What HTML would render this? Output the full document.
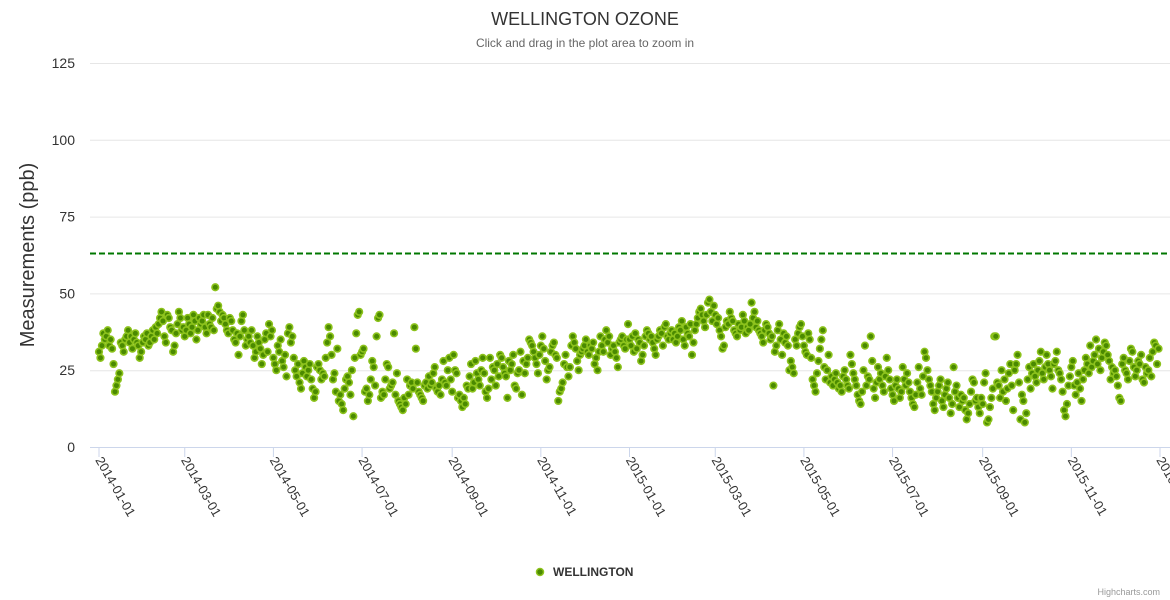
<!DOCTYPE html>
<html><head><meta charset="utf-8"><style>
body{margin:0;background:#fff;}
svg{font-family:"Liberation Sans",sans-serif;display:block}
</style></head><body>
<svg id="chart" width="1170" height="600">
<text x="585" y="25" text-anchor="middle" font-size="18" fill="#333">WELLINGTON OZONE</text>
<text x="585" y="47" text-anchor="middle" font-size="12" fill="#666">Click and drag in the plot area to zoom in</text>
<text transform="translate(34,255) rotate(-90)" text-anchor="middle" font-size="20" fill="#333">Measurements (ppb)</text>
<g id="grid"></g><g id="xaxis"></g><g id="pts"></g>
<g>
<circle cx="540" cy="572" r="3.5" fill="#4a8a00" stroke="#8cc21c" stroke-width="1.5"/>
<text x="553" y="576" font-size="12" font-weight="bold" fill="#333">WELLINGTON</text></g>
<text x="1160" y="595" text-anchor="end" font-size="9" fill="#999">Highcharts.com</text>
</svg>
<script>
const yTicks=[0,25,50,75,100,125];
const xTickLabels=["2014-01-01","2014-03-01","2014-05-01","2014-07-01","2014-09-01","2014-11-01","2015-01-01","2015-03-01","2015-05-01","2015-07-01","2015-09-01","2015-11-01","2016-01-01"];
const threshold=63;
const values=[
31,29,33,37,35,36,38,33,35,32,27,18,20,22,24,34,33,31,35,36,38,34,36,32,35,37,34,33,29,31,34,
36,35,37,33,34,36,38,35,39,37,40,42,44,41,36,34,43,42,39,38,31,33,37,40,44,42,38,39,
36,38,42,40,37,39,43,41,35,38,42,40,41,43,39,37,43,40,39,42,38,52,45,46,44,41,43,42,40,38,37,
42,41,38,35,34,37,30,36,41,43,38,33,35,36,34,38,33,29,31,36,34,32,27,30,35,37,31,40,36,38,
29,27,25,33,31,35,28,26,30,23,37,39,34,36,29,25,23,27,21,19,24,28,26,23,25,27,22,19,16,18,26,
27,25,22,24,23,29,34,39,36,30,22,24,18,32,15,17,14,12,19,22,23,21,17,25,10,29,37,43,44,30,
31,32,18,19,15,17,22,28,26,20,36,42,43,16,18,17,22,27,26,19,20,21,37,17,24,15,14,13,12,16,14,
22,17,20,21,19,39,32,21,18,17,16,15,20,21,19,23,20,21,24,26,19,18,20,17,22,28,21,20,25,29,22,
18,30,25,24,16,17,15,13,16,14,20,19,23,27,19,21,28,24,22,20,25,29,24,18,16,19,29,22,26,25,
20,27,23,30,29,26,24,23,16,28,25,27,30,20,19,24,25,31,17,28,24,27,29,35,34,33,31,29,27,24,30,
33,36,32,28,22,25,26,31,33,34,30,29,15,18,19,21,27,30,26,23,26,33,36,34,32,28,25,30,31,32,
33,35,31,30,33,32,34,27,29,25,31,36,33,31,35,38,34,36,30,32,33,31,29,26,34,35,36,33,32,35,40,
35,33,36,31,37,32,35,34,28,30,33,36,38,37,35,36,34,32,30,35,36,38,37,33,39,40,36,35,37,38,35,
37,34,36,39,38,41,35,33,39,37,36,40,30,34,38,40,42,44,45,43,41,39,43,47,48,44,41,46,
43,40,42,38,36,32,33,39,41,40,44,42,41,38,37,36,40,38,39,43,41,37,39,38,40,47,42,44,39,41,38,
37,36,34,38,40,39,37,35,36,20,31,33,38,40,35,30,37,34,36,33,25,28,26,24,35,33,37,39,40,36,
33,31,30,37,35,29,22,20,18,24,28,32,35,38,26,22,25,30,21,23,20,22,24,21,19,20,18,23,25,22,20,
19,30,27,24,22,20,17,15,14,18,25,33,20,23,22,36,28,19,16,21,26,22,24,20,18,23,29,25,22,19,
17,15,20,22,19,16,18,26,22,20,24,21,18,16,14,13,17,21,26,19,17,23,31,29,25,22,20,18,14,12,16,
18,20,22,15,13,17,19,21,16,11,14,26,18,20,16,13,17,15,16,12,9,11,14,18,22,21,15,16,13,11,16,
14,21,24,8,9,13,16,19,36,36,21,20,16,25,18,22,15,19,24,27,20,12,25,27,30,21,9,17,15,8,
11,22,26,19,24,27,23,21,25,28,31,24,22,26,30,27,25,23,19,27,28,31,25,24,22,18,12,10,14,20,23,
26,28,20,17,21,24,19,15,22,25,29,27,24,33,26,28,30,35,27,32,25,29,31,34,33,30,28,22,26,24,
25,23,20,16,15,27,29,25,24,22,28,32,31,26,23,25,28,27,30,22,21,26,24,25,29,23,31,34,33,27,32
];
const NS="http://www.w3.org/2000/svg";
const t0=Date.UTC(2014,0,1),t1=Date.UTC(2016,0,1),day=864e5;
const X0=99,X1=1160,Y0=447,Y1=63;
const xs=t=>X0+(t-t0)/(t1-t0)*(X1-X0);
const ys=v=>Y0-v/125*(Y0-Y1);
function mk(tag,attrs,parent){const e=document.createElementNS(NS,tag);for(const k in attrs)e.setAttribute(k,attrs[k]);parent.appendChild(e);return e;}
const grid=document.getElementById('grid');
yTicks.forEach(v=>{
 const l=mk('line',{x1:90,x2:1170,y1:ys(v)+0.5,y2:ys(v)+0.5,stroke:v===0?'#ccd6eb':'#e6e6e6','stroke-width':1},grid);
 
 
 const t=mk('text',{x:75,y:ys(v)+5,'text-anchor':'end','font-size':14,fill:'#333'},grid);
 t.textContent=v;
 
 
});
const tl=mk('line',{x1:90,x2:1170,y1:ys(threshold),y2:ys(threshold),stroke:'#007700','stroke-width':2,'stroke-dasharray':'6,3'},grid);


const xa=document.getElementById('xaxis');
xTickLabels.forEach(s=>{
 const p=s.split('-').map(Number);const x=xs(Date.UTC(p[0],p[1]-1,p[2]));
 const tk=mk('line',{x1:x,x2:x,y1:447,y2:457,stroke:'#ccd6eb'},xa);
 
 
 const t=mk('text',{x:0,y:0,'font-size':13,fill:'#333',transform:`translate(${x-4},${460}) rotate(60)`},xa);
 t.textContent=s;
 
 
});
const pts=document.getElementById('pts');
values.forEach((v,i)=>{
 const c=mk('circle',{cx:xs(t0+i*day),cy:ys(v),r:3.3,fill:'#4a8a00',stroke:'#8cc21c','stroke-width':1.6},pts);
 
 
});
</script>
</body></html>
